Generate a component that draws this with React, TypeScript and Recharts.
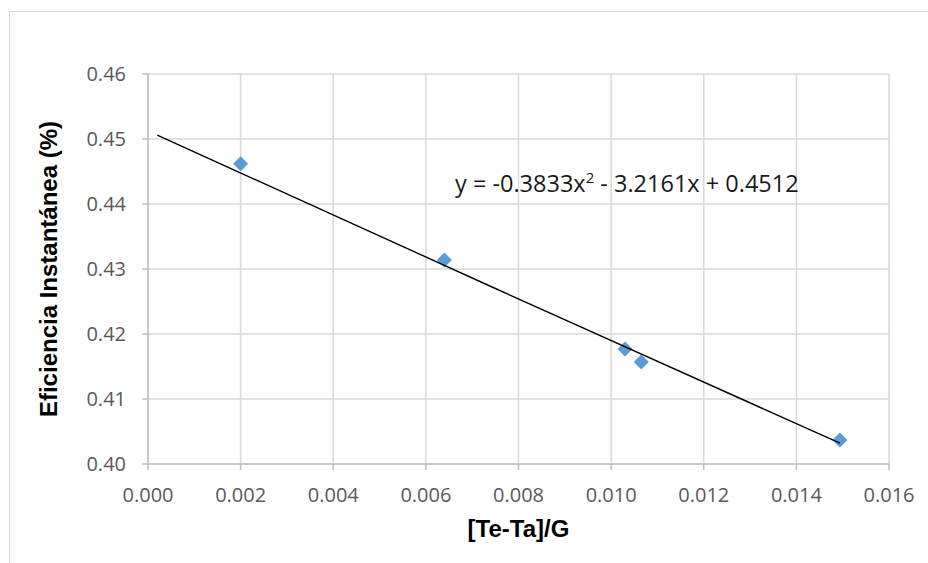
import React from "react";
import {
  ScatterChart,
  Scatter,
  XAxis,
  YAxis,
  CartesianGrid,
} from "recharts";

// Measured points (x = [Te-Ta]/G, y = efficiency)
const pointX = [0.002, 0.0064, 0.0103, 0.01065, 0.01494];
const pointY = [0.4462, 0.4314, 0.4177, 0.4157, 0.4037];

// Trendline (start, middle, end)
const trendX = [0.0002, 0.0075, 0.01494];
const trendY = [0.4506, 0.427, 0.4032];

const xTicks = [0, 0.002, 0.004, 0.006, 0.008, 0.01, 0.012, 0.014, 0.016];
const yTicks = [0.4, 0.41, 0.42, 0.43, 0.44, 0.45, 0.46];

const xTitle = "[Te-Ta]/G";
const yTitle = "Eficiencia Instantánea (%)";
const equationMain = "y = -0.3833x";
const equationSup = "2";
const equationRest = " - 3.2161x + 0.4512";

const points = pointX.map((x, i) => ({ x, y: pointY[i] }));
const trend = trendX.map((x, i) => ({ x, y: trendY[i] }));

const Diamond = (props: any) => {
  const { cx, cy } = props;
  const r = 7.5;
  return (
    <path
      d={`M${cx},${cy - r} L${cx + r},${cy} L${cx},${cy + r} L${cx - r},${cy} Z`}
      fill="#5b9bd5"
    />
  );
};

const NoShape = () => <g />;

const XTitle = (props: any) => {
  const vb = props.viewBox || {};
  return (
    <text
      x={vb.x + vb.width / 2}
      y={vb.y + 73}
      textAnchor="middle"
      fontFamily="'Liberation Sans', Arial, sans-serif"
      fontWeight="bold"
      fontSize={24}
      fill="#000"
    >
      {xTitle}
    </text>
  );
};

const YTitle = (props: any) => {
  const vb = props.viewBox || {};
  const cx = 57;
  const cy = vb.y + vb.height / 2;
  return (
    <text
      x={cx}
      y={cy}
      transform={`rotate(-90, ${cx}, ${cy})`}
      textAnchor="middle"
      fontFamily="'Liberation Sans', Arial, sans-serif"
      fontWeight="bold"
      fontSize={24}
      fill="#000"
    >
      {yTitle}
    </text>
  );
};

const tickStyle = { fill: "#595959", fontSize: 20, fontFamily: "'Open Sans', sans-serif" };

export default function App() {
  return (
    <div
      style={{
        position: "absolute",
        left: 0,
        top: 0,
        width: 928,
        height: 563,
        overflow: "hidden",
        background: "#fff",
      }}
    >
      <div
        style={{
          position: "absolute",
          left: 9,
          top: 11,
          width: 1000,
          height: 1000,
          border: "1.5px solid #d9d9d9",
          boxSizing: "border-box",
        }}
      />
      <div style={{ position: "absolute", left: 0, top: 0 }}>
        <ScatterChart
          width={928}
          height={563}
          margin={{ top: 74, right: 39, bottom: 29, left: 48 }}
        >
          <CartesianGrid stroke="#d9d9d9" strokeWidth={1.5} />
          <XAxis
            type="number"
            dataKey="x"
            domain={[0, 0.016]}
            ticks={xTicks}
            tickFormatter={(v: number) => v.toFixed(3)}
            height={70}
            tick={tickStyle}
            tickSize={6}
            tickMargin={18}
            stroke="#bfbfbf"
            strokeWidth={1.5}
            allowDataOverflow
            label={{ content: XTitle }}
          />
          <YAxis
            type="number"
            dataKey="y"
            domain={[0.4, 0.46]}
            ticks={yTicks}
            tickFormatter={(v: number) => v.toFixed(2)}
            width={100}
            tick={tickStyle}
            tickSize={6}
            tickMargin={16}
            stroke="#bfbfbf"
            strokeWidth={1.5}
            allowDataOverflow
            label={{ content: YTitle }}
          />
          <Scatter
            data={points}
            shape={Diamond}
            isAnimationActive={false}
          />
          <Scatter
            data={trend}
            line={{ stroke: "#000", strokeWidth: 1.4 }}
            shape={NoShape}
            isAnimationActive={false}
          />
        </ScatterChart>
      </div>
      <div
        style={{
          position: "absolute",
          left: 455,
          top: 172,
          fontFamily: "'Open Sans', sans-serif",
          fontSize: 23.5,
          lineHeight: "22px",
          color: "#1a1a1a",
          whiteSpace: "nowrap",
        }}
      >
        {equationMain}
        <sup style={{ fontSize: 15, lineHeight: 0, verticalAlign: "9px" }}>{equationSup}</sup>
        {equationRest}
      </div>
    </div>
  );
}
